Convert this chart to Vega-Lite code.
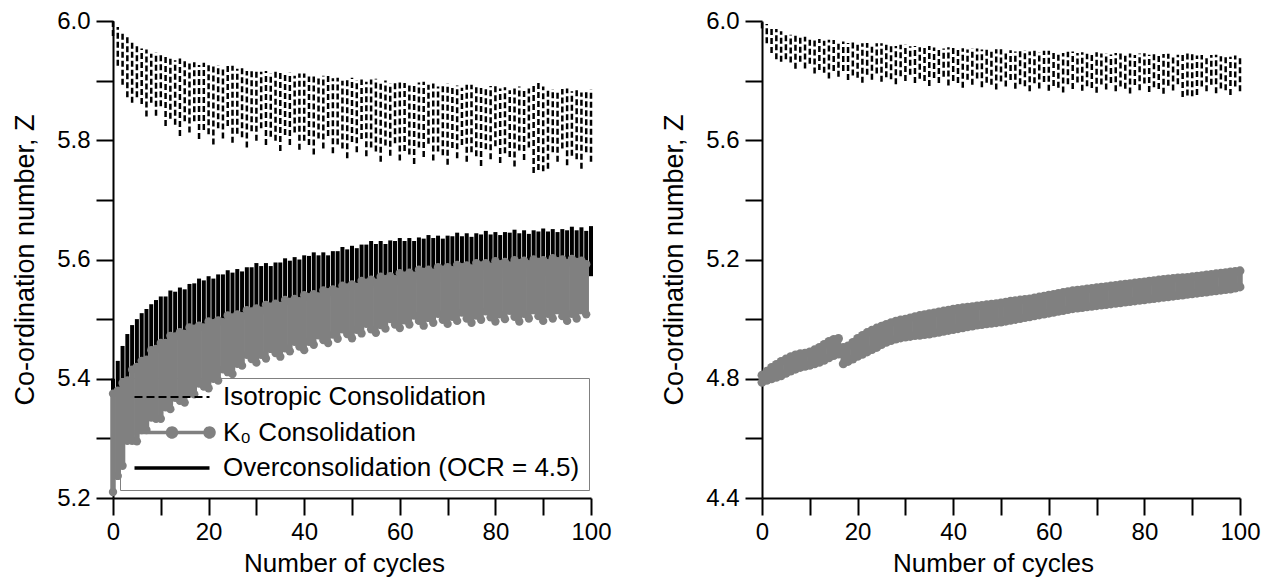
{
"$schema": "https://vega.github.io/schema/vega-lite/v6.json",
"padding": {"left": 11, "top": 9, "right": 5, "bottom": 5},
"background": "white",
"spacing": 171,
"bounds": "flush",
"config": {
  "view": {"stroke": null},
  "font": "Liberation Sans",
  "axis": {"domain": true, "ticks": true, "domainColor": "#000", "domainWidth": 2, "tickColor": "#000", "tickWidth": 2, "tickSize": 17, "labelFont": "Liberation Sans", "labelFontSize": 24, "labelColor": "#000", "titleFont": "Liberation Sans", "titleFontSize": 26, "titleFontWeight": "normal", "titleColor": "#000", "grid": false, "labelOverlap": false, "labelFlush": false}
},
"datasets": {
"iso": [
{"c":0,"lo":5.975,"hi":6.0},{"c":1,"lo":5.925,"hi":5.990},{"c":2,"lo":5.893,"hi":5.981},{"c":3,"lo":5.872,"hi":5.973},{"c":4,"lo":5.863,"hi":5.966},
{"c":5,"lo":5.872,"hi":5.962},{"c":6,"lo":5.861,"hi":5.954},{"c":7,"lo":5.840,"hi":5.952},{"c":8,"lo":5.863,"hi":5.945},{"c":9,"lo":5.841,"hi":5.947},
{"c":10,"lo":5.857,"hi":5.946},{"c":11,"lo":5.824,"hi":5.940},{"c":12,"lo":5.836,"hi":5.940},{"c":13,"lo":5.826,"hi":5.934},{"c":14,"lo":5.807,"hi":5.937},
{"c":15,"lo":5.832,"hi":5.936},{"c":16,"lo":5.813,"hi":5.931},{"c":17,"lo":5.832,"hi":5.931},{"c":18,"lo":5.802,"hi":5.926},{"c":19,"lo":5.817,"hi":5.930},
{"c":20,"lo":5.810,"hi":5.930},{"c":21,"lo":5.793,"hi":5.925},{"c":22,"lo":5.820,"hi":5.926},{"c":23,"lo":5.803,"hi":5.921},{"c":24,"lo":5.824,"hi":5.925},
{"c":25,"lo":5.796,"hi":5.925},{"c":26,"lo":5.811,"hi":5.920},{"c":27,"lo":5.805,"hi":5.921},{"c":28,"lo":5.788,"hi":5.916},{"c":29,"lo":5.815,"hi":5.920},
{"c":30,"lo":5.799,"hi":5.920},{"c":31,"lo":5.820,"hi":5.915},{"c":32,"lo":5.792,"hi":5.916},{"c":33,"lo":5.806,"hi":5.912},{"c":34,"lo":5.799,"hi":5.916},
{"c":35,"lo":5.782,"hi":5.916},{"c":36,"lo":5.809,"hi":5.911},{"c":37,"lo":5.792,"hi":5.913},{"c":38,"lo":5.813,"hi":5.908},{"c":39,"lo":5.784,"hi":5.912},
{"c":40,"lo":5.799,"hi":5.912},{"c":41,"lo":5.792,"hi":5.907},{"c":42,"lo":5.776,"hi":5.909},{"c":43,"lo":5.803,"hi":5.904},{"c":44,"lo":5.786,"hi":5.908},
{"c":45,"lo":5.807,"hi":5.908},{"c":46,"lo":5.778,"hi":5.904},{"c":47,"lo":5.793,"hi":5.905},{"c":48,"lo":5.786,"hi":5.900},{"c":49,"lo":5.770,"hi":5.905},
{"c":50,"lo":5.797,"hi":5.905},{"c":51,"lo":5.780,"hi":5.901},{"c":52,"lo":5.802,"hi":5.902},{"c":53,"lo":5.773,"hi":5.898},{"c":54,"lo":5.788,"hi":5.902},
{"c":55,"lo":5.781,"hi":5.903},{"c":56,"lo":5.764,"hi":5.898},{"c":57,"lo":5.791,"hi":5.900},{"c":58,"lo":5.774,"hi":5.895},{"c":59,"lo":5.795,"hi":5.900},
{"c":60,"lo":5.766,"hi":5.900},{"c":61,"lo":5.782,"hi":5.896},{"c":62,"lo":5.776,"hi":5.897},{"c":63,"lo":5.760,"hi":5.893},{"c":64,"lo":5.788,"hi":5.897},
{"c":65,"lo":5.772,"hi":5.898},{"c":66,"lo":5.794,"hi":5.893},{"c":67,"lo":5.766,"hi":5.895},{"c":68,"lo":5.781,"hi":5.890},{"c":69,"lo":5.775,"hi":5.895},
{"c":70,"lo":5.759,"hi":5.895},{"c":71,"lo":5.787,"hi":5.891},{"c":72,"lo":5.770,"hi":5.892},{"c":73,"lo":5.792,"hi":5.888},{"c":74,"lo":5.764,"hi":5.893},
{"c":75,"lo":5.780,"hi":5.893},{"c":76,"lo":5.773,"hi":5.889},{"c":77,"lo":5.757,"hi":5.891},{"c":78,"lo":5.785,"hi":5.886},{"c":79,"lo":5.768,"hi":5.891},
{"c":80,"lo":5.790,"hi":5.892},{"c":81,"lo":5.762,"hi":5.887},{"c":82,"lo":5.778,"hi":5.889},{"c":83,"lo":5.772,"hi":5.884},{"c":84,"lo":5.756,"hi":5.889},
{"c":85,"lo":5.783,"hi":5.890},{"c":86,"lo":5.767,"hi":5.885},{"c":87,"lo":5.788,"hi":5.887},{"c":88,"lo":5.745,"hi":5.892},{"c":89,"lo":5.750,"hi":5.897},
{"c":90,"lo":5.748,"hi":5.890},{"c":91,"lo":5.752,"hi":5.884},{"c":92,"lo":5.780,"hi":5.886},{"c":93,"lo":5.764,"hi":5.881},{"c":94,"lo":5.786,"hi":5.886},
{"c":95,"lo":5.758,"hi":5.887},{"c":96,"lo":5.774,"hi":5.882},{"c":97,"lo":5.768,"hi":5.884},{"c":98,"lo":5.752,"hi":5.880},{"c":99,"lo":5.780,"hi":5.884},
{"c":100,"lo":5.764,"hi":5.885}
],
"oc": [
{"c":0,"lo":5.240,"hi":5.400},{"c":1,"lo":5.250,"hi":5.430},{"c":2,"lo":5.330,"hi":5.455},{"c":3,"lo":5.370,"hi":5.475},{"c":4,"lo":5.390,"hi":5.490},
{"c":5,"lo":5.410,"hi":5.500},{"c":6,"lo":5.420,"hi":5.510},{"c":7,"lo":5.430,"hi":5.517},{"c":8,"lo":5.440,"hi":5.525},{"c":9,"lo":5.450,"hi":5.532},
{"c":10,"lo":5.455,"hi":5.538},{"c":11,"lo":5.463,"hi":5.538},{"c":12,"lo":5.468,"hi":5.548},{"c":13,"lo":5.472,"hi":5.546},{"c":14,"lo":5.475,"hi":5.553},
{"c":15,"lo":5.478,"hi":5.550},{"c":16,"lo":5.482,"hi":5.559},{"c":17,"lo":5.485,"hi":5.560},{"c":18,"lo":5.488,"hi":5.568},{"c":19,"lo":5.491,"hi":5.565},
{"c":20,"lo":5.494,"hi":5.572},{"c":21,"lo":5.496,"hi":5.568},{"c":22,"lo":5.498,"hi":5.575},{"c":23,"lo":5.500,"hi":5.575},{"c":24,"lo":5.502,"hi":5.582},
{"c":25,"lo":5.504,"hi":5.578},{"c":26,"lo":5.506,"hi":5.584},{"c":27,"lo":5.508,"hi":5.580},{"c":28,"lo":5.510,"hi":5.587},{"c":29,"lo":5.512,"hi":5.587},
{"c":30,"lo":5.514,"hi":5.594},{"c":31,"lo":5.515,"hi":5.589},{"c":32,"lo":5.516,"hi":5.594},{"c":33,"lo":5.517,"hi":5.589},{"c":34,"lo":5.518,"hi":5.595},
{"c":35,"lo":5.520,"hi":5.595},{"c":36,"lo":5.522,"hi":5.602},{"c":37,"lo":5.524,"hi":5.598},{"c":38,"lo":5.526,"hi":5.604},{"c":39,"lo":5.528,"hi":5.600},
{"c":40,"lo":5.530,"hi":5.607},{"c":41,"lo":5.531,"hi":5.606},{"c":42,"lo":5.532,"hi":5.612},{"c":43,"lo":5.533,"hi":5.607},{"c":44,"lo":5.534,"hi":5.612},
{"c":45,"lo":5.535,"hi":5.607},{"c":46,"lo":5.537,"hi":5.614},{"c":47,"lo":5.539,"hi":5.614},{"c":48,"lo":5.541,"hi":5.621},{"c":49,"lo":5.543,"hi":5.617},
{"c":50,"lo":5.545,"hi":5.623},{"c":51,"lo":5.547,"hi":5.619},{"c":52,"lo":5.548,"hi":5.625},{"c":53,"lo":5.550,"hi":5.625},{"c":54,"lo":5.551,"hi":5.631},
{"c":55,"lo":5.552,"hi":5.626},{"c":56,"lo":5.553,"hi":5.631},{"c":57,"lo":5.554,"hi":5.626},{"c":58,"lo":5.555,"hi":5.632},{"c":59,"lo":5.556,"hi":5.631},
{"c":60,"lo":5.556,"hi":5.636},{"c":61,"lo":5.557,"hi":5.631},{"c":62,"lo":5.558,"hi":5.636},{"c":63,"lo":5.559,"hi":5.631},{"c":64,"lo":5.560,"hi":5.637},
{"c":65,"lo":5.560,"hi":5.635},{"c":66,"lo":5.561,"hi":5.641},{"c":67,"lo":5.562,"hi":5.636},{"c":68,"lo":5.562,"hi":5.640},{"c":69,"lo":5.563,"hi":5.635},
{"c":70,"lo":5.563,"hi":5.640},{"c":71,"lo":5.564,"hi":5.639},{"c":72,"lo":5.565,"hi":5.645},{"c":73,"lo":5.565,"hi":5.639},{"c":74,"lo":5.566,"hi":5.644},
{"c":75,"lo":5.566,"hi":5.638},{"c":76,"lo":5.567,"hi":5.644},{"c":77,"lo":5.567,"hi":5.642},{"c":78,"lo":5.568,"hi":5.648},{"c":79,"lo":5.568,"hi":5.642},
{"c":80,"lo":5.568,"hi":5.646},{"c":81,"lo":5.569,"hi":5.641},{"c":82,"lo":5.569,"hi":5.646},{"c":83,"lo":5.570,"hi":5.645},{"c":84,"lo":5.570,"hi":5.650},
{"c":85,"lo":5.570,"hi":5.644},{"c":86,"lo":5.571,"hi":5.649},{"c":87,"lo":5.571,"hi":5.643},{"c":88,"lo":5.572,"hi":5.649},{"c":89,"lo":5.572,"hi":5.647},
{"c":90,"lo":5.572,"hi":5.652},{"c":91,"lo":5.573,"hi":5.647},{"c":92,"lo":5.573,"hi":5.651},{"c":93,"lo":5.574,"hi":5.646},{"c":94,"lo":5.574,"hi":5.651},
{"c":95,"lo":5.574,"hi":5.649},{"c":96,"lo":5.575,"hi":5.655},{"c":97,"lo":5.575,"hi":5.649},{"c":98,"lo":5.576,"hi":5.654},{"c":99,"lo":5.576,"hi":5.648},
{"c":100,"lo":5.572,"hi":5.656}
],
"k0": [
{"c":0,"lo":5.210,"hi":5.375},{"c":1,"lo":5.237,"hi":5.380},{"c":2,"lo":5.254,"hi":5.393},{"c":3,"lo":5.296,"hi":5.397},{"c":4,"lo":5.296,"hi":5.415},
{"c":5,"lo":5.295,"hi":5.420},{"c":6,"lo":5.314,"hi":5.430},{"c":7,"lo":5.314,"hi":5.432},{"c":8,"lo":5.335,"hi":5.448},{"c":9,"lo":5.333,"hi":5.450},
{"c":10,"lo":5.333,"hi":5.460},{"c":11,"lo":5.352,"hi":5.460},{"c":12,"lo":5.349,"hi":5.472},{"c":13,"lo":5.368,"hi":5.471},{"c":14,"lo":5.363,"hi":5.478},
{"c":15,"lo":5.360,"hi":5.475},{"c":16,"lo":5.377,"hi":5.486},{"c":17,"lo":5.374,"hi":5.484},{"c":18,"lo":5.392,"hi":5.489},{"c":19,"lo":5.387,"hi":5.486},
{"c":20,"lo":5.384,"hi":5.496},{"c":21,"lo":5.400,"hi":5.493},{"c":22,"lo":5.397,"hi":5.498},{"c":23,"lo":5.416,"hi":5.495},{"c":24,"lo":5.411,"hi":5.506},
{"c":25,"lo":5.408,"hi":5.503},{"c":26,"lo":5.425,"hi":5.508},{"c":27,"lo":5.422,"hi":5.505},{"c":28,"lo":5.440,"hi":5.515},{"c":29,"lo":5.433,"hi":5.513},
{"c":30,"lo":5.427,"hi":5.518},{"c":31,"lo":5.440,"hi":5.514},{"c":32,"lo":5.434,"hi":5.524},{"c":33,"lo":5.450,"hi":5.521},{"c":34,"lo":5.443,"hi":5.526},
{"c":35,"lo":5.437,"hi":5.522},{"c":36,"lo":5.451,"hi":5.532},{"c":37,"lo":5.446,"hi":5.529},{"c":38,"lo":5.462,"hi":5.534},{"c":39,"lo":5.454,"hi":5.530},
{"c":40,"lo":5.448,"hi":5.540},{"c":41,"lo":5.462,"hi":5.537},{"c":42,"lo":5.457,"hi":5.542},{"c":43,"lo":5.473,"hi":5.538},{"c":44,"lo":5.465,"hi":5.548},
{"c":45,"lo":5.460,"hi":5.545},{"c":46,"lo":5.474,"hi":5.550},{"c":47,"lo":5.467,"hi":5.546},{"c":48,"lo":5.483,"hi":5.556},{"c":49,"lo":5.475,"hi":5.553},
{"c":50,"lo":5.468,"hi":5.558},{"c":51,"lo":5.482,"hi":5.554},{"c":52,"lo":5.476,"hi":5.564},{"c":53,"lo":5.492,"hi":5.561},{"c":54,"lo":5.483,"hi":5.566},
{"c":55,"lo":5.477,"hi":5.561},{"c":56,"lo":5.490,"hi":5.571},{"c":57,"lo":5.484,"hi":5.567},{"c":58,"lo":5.500,"hi":5.572},{"c":59,"lo":5.491,"hi":5.567},
{"c":60,"lo":5.485,"hi":5.577},{"c":61,"lo":5.498,"hi":5.573},{"c":62,"lo":5.491,"hi":5.578},{"c":63,"lo":5.506,"hi":5.573},{"c":64,"lo":5.497,"hi":5.583},
{"c":65,"lo":5.489,"hi":5.579},{"c":66,"lo":5.502,"hi":5.583},{"c":67,"lo":5.494,"hi":5.578},{"c":68,"lo":5.509,"hi":5.587},{"c":69,"lo":5.499,"hi":5.583},
{"c":70,"lo":5.492,"hi":5.587},{"c":71,"lo":5.504,"hi":5.582},{"c":72,"lo":5.497,"hi":5.591},{"c":73,"lo":5.511,"hi":5.587},{"c":74,"lo":5.501,"hi":5.590},
{"c":75,"lo":5.494,"hi":5.585},{"c":76,"lo":5.506,"hi":5.594},{"c":77,"lo":5.499,"hi":5.590},{"c":78,"lo":5.513,"hi":5.594},{"c":79,"lo":5.503,"hi":5.588},
{"c":80,"lo":5.496,"hi":5.597},{"c":81,"lo":5.508,"hi":5.592},{"c":82,"lo":5.500,"hi":5.596},{"c":83,"lo":5.514,"hi":5.590},{"c":84,"lo":5.504,"hi":5.599},
{"c":85,"lo":5.496,"hi":5.594},{"c":86,"lo":5.509,"hi":5.598},{"c":87,"lo":5.501,"hi":5.592},{"c":88,"lo":5.515,"hi":5.600},{"c":89,"lo":5.505,"hi":5.596},
{"c":90,"lo":5.497,"hi":5.599},{"c":91,"lo":5.509,"hi":5.594},{"c":92,"lo":5.501,"hi":5.602},{"c":93,"lo":5.515,"hi":5.597},{"c":94,"lo":5.505,"hi":5.600},
{"c":95,"lo":5.497,"hi":5.594},{"c":96,"lo":5.509,"hi":5.601},{"c":97,"lo":5.501,"hi":5.596},{"c":98,"lo":5.515,"hi":5.598},{"c":99,"lo":5.508,"hi":5.592}
],
"k0r": [
{"c":0,"lo":4.788,"hi":4.812},{"c":1,"lo":4.795,"hi":4.825},{"c":2,"lo":4.800,"hi":4.838},{"c":3,"lo":4.805,"hi":4.848},{"c":4,"lo":4.810,"hi":4.858},
{"c":5,"lo":4.818,"hi":4.866},{"c":6,"lo":4.826,"hi":4.874},{"c":7,"lo":4.832,"hi":4.880},{"c":8,"lo":4.838,"hi":4.884},{"c":9,"lo":4.842,"hi":4.886},
{"c":10,"lo":4.845,"hi":4.890},{"c":11,"lo":4.850,"hi":4.897},{"c":12,"lo":4.855,"hi":4.905},{"c":13,"lo":4.862,"hi":4.915},{"c":14,"lo":4.870,"hi":4.925},
{"c":15,"lo":4.878,"hi":4.932},{"c":16,"lo":4.883,"hi":4.935},{"c":17,"lo":4.850,"hi":4.905},{"c":18,"lo":4.858,"hi":4.910},{"c":19,"lo":4.866,"hi":4.922},
{"c":20,"lo":4.875,"hi":4.935},{"c":21,"lo":4.882,"hi":4.945},{"c":22,"lo":4.890,"hi":4.955},{"c":23,"lo":4.898,"hi":4.963},{"c":24,"lo":4.905,"hi":4.970},
{"c":25,"lo":4.915,"hi":4.976},{"c":26,"lo":4.922,"hi":4.982},{"c":27,"lo":4.928,"hi":4.988},{"c":28,"lo":4.933,"hi":4.993},{"c":29,"lo":4.937,"hi":4.997},
{"c":30,"lo":4.940,"hi":5.000},{"c":31,"lo":4.942,"hi":5.004},{"c":32,"lo":4.945,"hi":5.008},{"c":33,"lo":4.946,"hi":5.012},{"c":34,"lo":4.948,"hi":5.015},
{"c":35,"lo":4.950,"hi":5.018},{"c":36,"lo":4.953,"hi":5.021},{"c":37,"lo":4.956,"hi":5.024},{"c":38,"lo":4.959,"hi":5.027},{"c":39,"lo":4.962,"hi":5.030},
{"c":40,"lo":4.965,"hi":5.033},{"c":41,"lo":4.968,"hi":5.036},{"c":42,"lo":4.971,"hi":5.038},{"c":43,"lo":4.974,"hi":5.040},{"c":44,"lo":4.977,"hi":5.042},
{"c":45,"lo":4.980,"hi":5.044},{"c":46,"lo":4.982,"hi":5.046},{"c":47,"lo":4.984,"hi":5.048},{"c":48,"lo":4.986,"hi":5.050},{"c":49,"lo":4.988,"hi":5.052},
{"c":50,"lo":4.990,"hi":5.054},{"c":51,"lo":4.993,"hi":5.057},{"c":52,"lo":4.996,"hi":5.060},{"c":53,"lo":4.999,"hi":5.062},{"c":54,"lo":5.002,"hi":5.064},
{"c":55,"lo":5.005,"hi":5.066},{"c":56,"lo":5.008,"hi":5.068},{"c":57,"lo":5.011,"hi":5.071},{"c":58,"lo":5.014,"hi":5.074},{"c":59,"lo":5.017,"hi":5.077},
{"c":60,"lo":5.020,"hi":5.080},{"c":61,"lo":5.023,"hi":5.083},{"c":62,"lo":5.026,"hi":5.086},{"c":63,"lo":5.029,"hi":5.089},{"c":64,"lo":5.032,"hi":5.092},
{"c":65,"lo":5.035,"hi":5.095},{"c":66,"lo":5.037,"hi":5.097},{"c":67,"lo":5.039,"hi":5.099},{"c":68,"lo":5.041,"hi":5.101},{"c":69,"lo":5.043,"hi":5.103},
{"c":70,"lo":5.045,"hi":5.105},{"c":71,"lo":5.047,"hi":5.107},{"c":72,"lo":5.049,"hi":5.109},{"c":73,"lo":5.051,"hi":5.111},{"c":74,"lo":5.053,"hi":5.113},
{"c":75,"lo":5.055,"hi":5.115},{"c":76,"lo":5.057,"hi":5.117},{"c":77,"lo":5.059,"hi":5.119},{"c":78,"lo":5.061,"hi":5.121},{"c":79,"lo":5.063,"hi":5.123},
{"c":80,"lo":5.065,"hi":5.125},{"c":81,"lo":5.067,"hi":5.127},{"c":82,"lo":5.069,"hi":5.129},{"c":83,"lo":5.071,"hi":5.131},{"c":84,"lo":5.073,"hi":5.133},
{"c":85,"lo":5.075,"hi":5.135},{"c":86,"lo":5.077,"hi":5.136},{"c":87,"lo":5.079,"hi":5.138},{"c":88,"lo":5.081,"hi":5.139},{"c":89,"lo":5.083,"hi":5.140},
{"c":90,"lo":5.085,"hi":5.142},{"c":91,"lo":5.087,"hi":5.144},{"c":92,"lo":5.089,"hi":5.146},{"c":93,"lo":5.091,"hi":5.148},{"c":94,"lo":5.093,"hi":5.150},
{"c":95,"lo":5.095,"hi":5.152},{"c":96,"lo":5.097,"hi":5.154},{"c":97,"lo":5.099,"hi":5.156},{"c":98,"lo":5.101,"hi":5.158},{"c":99,"lo":5.104,"hi":5.160},
{"c":100,"lo":5.108,"hi":5.162}
]
},
"hconcat": [
{
  "width": 478, "height": 477,
  "encoding": {
    "x": {"field": "c", "type": "quantitative", "title": "Number of cycles",
      "scale": {"domain": [0, 100], "nice": false, "zero": false},
      "axis": {"values": [0,10,20,30,40,50,60,70,80,90,100], "labelExpr": "datum.value % 20 === 0 ? datum.label : ''",
        "ticks": true, "tickSize": 17,
        "encode": {"ticks": {"update": {"strokeDash": {"signal": "datum.value % 20 === 0 ? [17, 1] : [8, 40]"}}}},
        "labelPadding": 5, "titlePadding": 6, "titleX": 231}},
    "y": {"field": "lo", "type": "quantitative", "title": "Co-ordination number, Z",
      "scale": {"domain": [5.2, 6.0], "nice": false, "zero": false},
      "axis": {"values": [5.2,5.3,5.4,5.5,5.6,5.7,5.8,5.9,6.0],
        "labelExpr": "round(datum.value * 10) % 2 === 0 ? format(datum.value, '.1f') : ''",
        "ticks": true, "tickSize": 17,
        "encode": {"ticks": {"update": {"strokeDash": {"signal": "round(datum.value * 10) % 2 === 0 ? [17, 1] : [8, 40]"}}}},
        "labelPadding": 6, "titlePadding": 17, "titleFontSize": 27}}
  },
  "layer": [
    {"data": {"name": "iso"}, "mark": {"type": "rule", "strokeDash": [6, 3], "strokeWidth": 2.5},
     "encoding": {"y2": {"field": "hi"},
       "color": {"datum": "Isotropic Consolidation", "type": "nominal",
         "scale": {"domain": ["Isotropic Consolidation", "K₀ Consolidation", "Overconsolidation (OCR = 4.5)"], "range": ["#000000", "#808080", "#000000"]},
         "legend": {"title": null, "orient": "none", "legendX": 7, "legendY": 357, "direction": "vertical",
           "symbolType": "stroke", "symbolSize": 5625, "symbolStrokeWidth": 3, "clipHeight": 20, "rowPadding": 9.5, "padding": 9,
           "symbolOffset": 30, "labelOffset": 38,
           "labelFontSize": 26, "labelLimit": 0, "labelFont": "Liberation Sans", "labelColor": "#000",
           "strokeColor": "#808080",
           "encode": {"symbols": {"update": {
             "strokeDash": {"signal": "datum.value === 'Isotropic Consolidation' ? [8, 4] : [1, 0]"},
             "strokeWidth": {"signal": "datum.value === 'Isotropic Consolidation' ? 2 : 3.5"},
             "shape": {"signal": "datum.value === 'K₀ Consolidation' ? 'M-1,0L1,0M-0.12,0A0.12,0.12,0,1,1,0.12,0A0.12,0.12,0,1,1,-0.12,0ZM0.88,0A0.12,0.12,0,1,1,1.12,0A0.12,0.12,0,1,1,0.88,0Z' : 'stroke'"},
             "fill": {"signal": "datum.value === 'K₀ Consolidation' ? '#808080' : 'transparent'"}
           }}}}}}},
    {"data": {"name": "oc"}, "mark": {"type": "rule", "strokeWidth": 4},
     "encoding": {"y2": {"field": "hi"}, "color": {"datum": "Overconsolidation (OCR = 4.5)", "type": "nominal"}}},
    {"data": {"name": "k0"}, "mark": {"type": "rule", "strokeWidth": 5.5},
     "encoding": {"y2": {"field": "hi"}, "color": {"datum": "K₀ Consolidation", "type": "nominal"}}},
    {"data": {"name": "k0"}, "mark": {"type": "circle", "size": 70, "opacity": 1, "color": "#808080"}, "encoding": {}},
    {"data": {"name": "k0"}, "mark": {"type": "circle", "size": 70, "opacity": 1, "color": "#808080"},
     "encoding": {"y": {"field": "hi", "type": "quantitative", "title": "Co-ordination number, Z"}}}
  ]
},
{
  "width": 478, "height": 477,
  "encoding": {
    "x": {"field": "c", "type": "quantitative", "title": "Number of cycles",
      "scale": {"domain": [0, 100], "nice": false, "zero": false},
      "axis": {"values": [0,10,20,30,40,50,60,70,80,90,100], "labelExpr": "datum.value % 20 === 0 ? datum.label : ''",
        "ticks": true, "tickSize": 17,
        "encode": {"ticks": {"update": {"strokeDash": {"signal": "datum.value % 20 === 0 ? [17, 1] : [8, 40]"}}}},
        "labelPadding": 5, "titlePadding": 6, "titleX": 231}},
    "y": {"field": "lo", "type": "quantitative", "title": "Co-ordination number, Z",
      "scale": {"domain": [4.4, 6.0], "nice": false, "zero": false},
      "axis": {"values": [4.4,4.6,4.8,5.0,5.2,5.4,5.6,5.8,6.0],
        "labelExpr": "round(datum.value * 10) % 4 === 0 ? format(datum.value, '.1f') : ''",
        "ticks": true, "tickSize": 17,
        "encode": {"ticks": {"update": {"strokeDash": {"signal": "round(datum.value * 10) % 4 === 0 ? [17, 1] : [8, 40]"}}}},
        "labelPadding": 6, "titlePadding": 17, "titleFontSize": 27}}
  },
  "layer": [
    {"data": {"name": "iso"}, "mark": {"type": "rule", "strokeDash": [6, 3], "strokeWidth": 2.5, "color": "#000000"},
     "encoding": {"y2": {"field": "hi"}}},
    {"data": {"name": "k0r"}, "mark": {"type": "rule", "strokeWidth": 5.5, "color": "#808080"},
     "encoding": {"y2": {"field": "hi"}}},
    {"data": {"name": "k0r"}, "mark": {"type": "circle", "size": 80, "opacity": 1, "color": "#808080"}, "encoding": {}},
    {"data": {"name": "k0r"}, "mark": {"type": "circle", "size": 80, "opacity": 1, "color": "#808080"},
     "encoding": {"y": {"field": "hi", "type": "quantitative", "title": "Co-ordination number, Z"}}}
  ]
}
]
}
